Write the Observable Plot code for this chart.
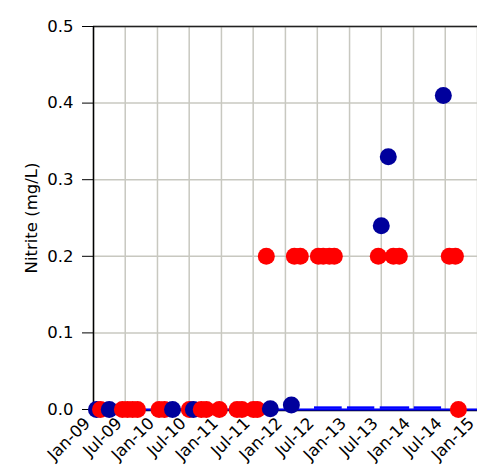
<!DOCTYPE html>
<html>
<head>
<meta charset="utf-8">
<script src="https://cdn.jsdelivr.net/npm/d3@7"></script>
<script src="https://cdn.jsdelivr.net/npm/@observablehq/plot@0.6"></script>
<style>
  html, body { margin: 0; padding: 0; background: #fff; }
  #chart svg { font-family: "DejaVu Sans", sans-serif; }
  #chart svg text { font-size: 16.5px !important; font-family: "DejaVu Sans", sans-serif; fill: #000; }
</style>
</head>
<body>
<div id="chart"></div>
<script>
// ---- data ----
const blueDates  = ["2009-01-18","2009-04-01","2010-03-28","2010-07-25","2011-10-07","2012-02-04","2013-07-01","2013-08-10","2014-06-20"];
const blueValues = [0, 0, 0, 0, 0.001, 0.006, 0.24, 0.33, 0.41];

const redDates  = ["2009-02-10","2009-06-15","2009-07-14","2009-08-12","2009-09-09","2010-01-10","2010-02-10","2010-07-02","2010-09-08","2010-10-07","2010-12-20","2011-03-31","2011-04-28","2011-07-02","2011-07-25","2011-09-14","2012-02-21","2012-03-26","2012-07-07","2012-08-04","2012-09-08","2012-10-06","2013-06-14","2013-09-08","2013-10-12","2014-07-24","2014-08-28","2014-09-14"];
const redValues = [0,0,0,0,0,0,0,0,0,0,0,0,0,0,0,0.2,0.2,0.2,0.2,0.2,0.2,0.2,0.2,0.2,0.2,0.2,0.2,0];

// detection-limit segments of the blue series
const ndStart = ["2012-06-15","2012-12-20","2013-06-25","2014-01-05"];
const ndEnd   = ["2012-11-20","2013-05-25","2013-12-10","2014-06-10"];

const xTicks = ["2009-01-01","2009-07-01","2010-01-01","2010-07-01","2011-01-01","2011-07-01","2012-01-01","2012-07-01","2013-01-01","2013-07-01","2014-01-01","2014-07-01","2015-01-01"];
const yTicks = [0, 0.1, 0.2, 0.3, 0.4, 0.5];
const yLabel = "Nitrite (mg/L)";

// ---- build ----
const parse = d3.utcParse("%Y-%m-%d");
const pts = [
  ...blueDates.map((d, i) => ({date: parse(d), value: blueValues[i], series: "S1"})),
  ...redDates.map((d, i) => ({date: parse(d), value: redValues[i], series: "S2"}))
].sort((a, b) => a.date - b.date);
const nd = ndStart.map((d, i) => ({x1: parse(d), x2: parse(ndEnd[i]), y: 0.0025}));
const xt = xTicks.map(parse);

const chart = Plot.plot({
  width: 477,
  height: 473,
  marginLeft: 93,
  marginRight: 0,
  marginTop: 26,
  marginBottom: 64,
  style: {fontSize: "16.5px", fontFamily: "DejaVu Sans, sans-serif", color: "#000", background: "#fff"},
  x: {type: "utc", domain: [parse("2009-01-01"), parse("2015-01-01")]},
  y: {domain: [0, 0.5]},
  color: {domain: ["S1", "S2"], range: ["#00009c", "#ff0000"]},
  marks: [
    Plot.gridX(xt, {stroke: "#c8c8c0", strokeOpacity: 1, strokeWidth: 1.5}),
    Plot.gridY(yTicks, {stroke: "#c8c8c0", strokeOpacity: 1, strokeWidth: 1.5}),
    Plot.ruleY([0.5], {stroke: "#222", strokeWidth: 1.5}),
    Plot.ruleX([parse("2009-01-01")], {stroke: "#000", strokeWidth: 1.5}),
    Plot.ruleY([0], {stroke: "#000", strokeWidth: 1.5, dy: 1}),
    Plot.ruleY([0], {stroke: "#0000ff", strokeWidth: 2}),
    Plot.ruleY(nd, {x1: "x1", x2: "x2", y: "y", stroke: "#0000ff", strokeWidth: 2.5}),
    Plot.axisY(yTicks, {
      tickFormat: d3.format(".1f"), tickSize: 11, tickPadding: 9, stroke: "#000", fontSize: 16.5,
      label: yLabel, labelAnchor: "center", labelOffset: 68, labelArrow: "none"
    }),
    Plot.axisX(xt, {
      tickFormat: d3.utcFormat("%b-%y"), tickSize: 0, tickRotate: -45, tickPadding: 10, fontSize: 16.5,
      dx: -6, dy: 1, label: null
    }),
    Plot.dot(pts, {x: "date", y: "value", fill: "series", r: 8.5, stroke: "none"})
  ]
});
document.getElementById("chart").appendChild(chart);
</script>
</body>
</html>
